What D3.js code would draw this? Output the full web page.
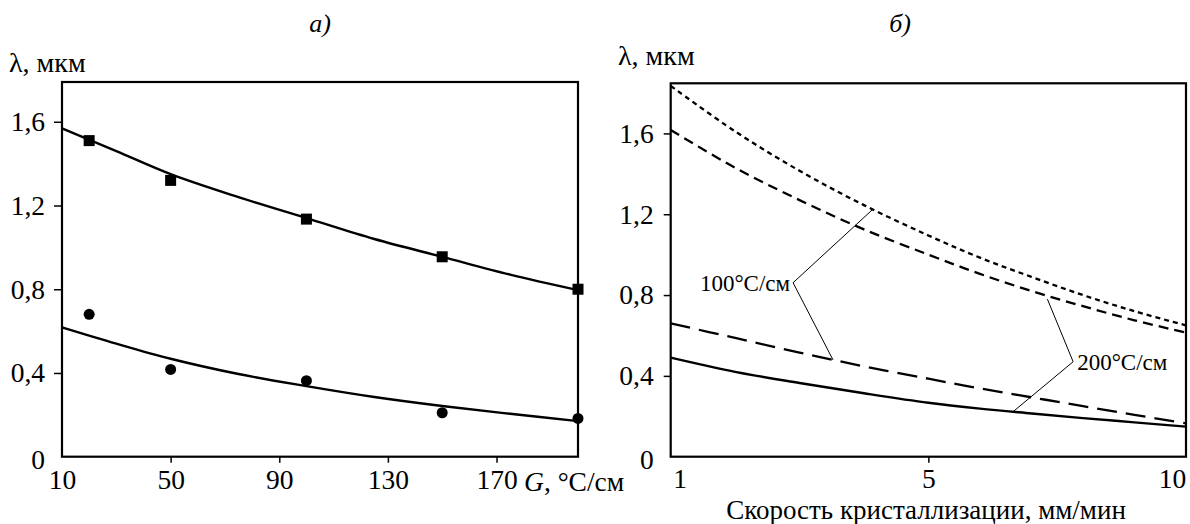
<!DOCTYPE html>
<html><head><meta charset="utf-8">
<script src="https://cdn.jsdelivr.net/npm/d3@7"></script>
<style>
html,body{margin:0;padding:0;background:#fff;}
text{font-family:"Liberation Serif","Times New Roman",serif;fill:#000;}
</style></head>
<body><svg id="c" width="1190" height="524"></svg>
<script>
// ---- Panel a) data ----
const gValues = [20, 50, 100, 150, 200];
const squareLambda = [1.51, 1.32, 1.135, 0.955, 0.80];
const circleLambda = [0.68, 0.417, 0.363, 0.21, 0.183];
const fitG = [10, 30, 50, 75, 100, 125, 150, 175, 200];
const fitTop = [1.568, 1.46, 1.35, 1.24, 1.14, 1.04, 0.955, 0.87, 0.796];
const fitBottom = [0.618, 0.54, 0.468, 0.395, 0.337, 0.285, 0.242, 0.205, 0.17];
const leftXTicks = [10, 50, 90, 130, 170];
const leftYTicks = [0, 0.4, 0.8, 1.2, 1.6];

// ---- Panel б) data ----
const speed = [1, 2, 3, 4, 5, 6, 7, 8, 9, 10];
const curveA = [1.835, 1.61, 1.415, 1.245, 1.095, 0.985, 0.89, 0.80, 0.72, 0.65];
const curveB = [1.617, 1.43, 1.27, 1.125, 1.0, 0.905, 0.82, 0.745, 0.675, 0.614];
const curveC = [0.66, 0.5875, 0.5155, 0.447, 0.386, 0.338, 0.294, 0.25, 0.207, 0.165];
const curveD = [0.49, 0.42, 0.365, 0.314, 0.267, 0.238, 0.214, 0.191, 0.17, 0.149];
const rightXTicks = [1, 5, 10];
const rightYTicks = [0, 0.4, 0.8, 1.2, 1.6];
// annotation: label, vertex [speed, λ], targets [[speed, λ], ...]
const annLabels = ["100°C/см", "200°C/см"];
const annVertex = [[2.9, 0.861], [7.81, 0.47]];
const annTargets = [[[4.14, 1.225], [3.52, 0.479]], [[7.31, 0.78], [6.645, 0.223]]];

const svg = d3.select("#c");
const comma = v => String(v).replace(".", ",");
const FS = 27.5;

// ===== Panel a =====
const L = {x0: 62, x1: 578, y0: 456.7, y1: 82};
const xA = d3.scaleLinear().domain([10, 200]).range([L.x0, L.x1]);
const yA = d3.scaleLinear().domain([0, 1.79]).range([L.y0, L.y1]);
const gA = svg.append("g");

const axXA = gA.append("g").attr("transform", `translate(0,${L.y0})`)
  .call(d3.axisBottom(xA).tickValues(leftXTicks).tickSize(6).tickPadding(7).tickFormat(d => d));
const axYA = gA.append("g").attr("transform", `translate(${L.x0},0)`)
  .call(d3.axisLeft(yA).tickValues(leftYTicks).tickSize(8).tickPadding(9).tickFormat(comma));
[axXA, axYA].forEach(a => {
  a.select(".domain").remove();
  a.selectAll("line").attr("stroke", "#000").attr("stroke-width", 1.5);
  a.selectAll("text").attr("font-size", FS).attr("font-family", "Liberation Serif");
});
axXA.selectAll(".tick").filter(d => d === 10).select("line").remove();
axYA.selectAll(".tick").filter(d => d === 0).select("line").remove();
axYA.selectAll(".tick").filter(d => d === 0).select("text").attr("dy", "0.42em");

gA.append("rect").attr("x", L.x0).attr("y", L.y1).attr("width", L.x1 - L.x0).attr("height", L.y0 - L.y1)
  .attr("fill", "none").attr("stroke", "#000").attr("stroke-width", 2.2);

const lineA = d3.line().x(d => xA(d[0])).y(d => yA(d[1])).curve(d3.curveCatmullRom);
gA.append("path").attr("d", lineA(fitG.map((g, i) => [g, fitTop[i]])))
  .attr("fill", "none").attr("stroke", "#000").attr("stroke-width", 2.4);
gA.append("path").attr("d", lineA(fitG.map((g, i) => [g, fitBottom[i]])))
  .attr("fill", "none").attr("stroke", "#000").attr("stroke-width", 2.4);

gA.selectAll("rect.sq").data(gValues.map((g, i) => [g, squareLambda[i]])).enter().append("rect")
  .attr("class", "sq").attr("x", d => xA(d[0]) - 5.5).attr("y", d => yA(d[1]) - 5.5)
  .attr("width", 11).attr("height", 11).attr("fill", "#000");
gA.selectAll("circle.ci").data(gValues.map((g, i) => [g, circleLambda[i]])).enter().append("circle")
  .attr("class", "ci").attr("cx", d => xA(d[0])).attr("cy", d => yA(d[1])).attr("r", 5.5).attr("fill", "#000");

gA.append("text").attr("x", 320).attr("y", 32).attr("text-anchor", "middle")
  .attr("font-size", 26).attr("font-style", "italic").text("а)");
gA.append("text").attr("x", 9).attr("y", 72).attr("font-size", 28).text("λ, мкм");
const xlabA = gA.append("text").attr("x", 524).attr("y", 491).attr("font-size", FS);
xlabA.append("tspan").attr("font-style", "italic").text("G");
xlabA.append("tspan").text(", °C/см");

// ===== Panel б =====
const R = {x0: 670.7, x1: 1186, y0: 456.7, y1: 83.3};
const xB = d3.scaleLinear().domain([1, 5, 10]).range([R.x0, (R.x0 + R.x1) / 2, R.x1]);
const yB = d3.scaleLinear().domain([0, 1.848]).range([R.y0, R.y1]);
const gB = svg.append("g");

const axXB = gB.append("g").attr("transform", `translate(0,${R.y0})`)
  .call(d3.axisBottom(xB).tickValues(rightXTicks).tickSize(6).tickPadding(6).tickFormat(d => d));
const axYB = gB.append("g").attr("transform", `translate(${R.x0},0)`)
  .call(d3.axisLeft(yB).tickValues(rightYTicks).tickSize(7).tickPadding(10).tickFormat(comma));
[axXB, axYB].forEach(a => {
  a.select(".domain").remove();
  a.selectAll("line").attr("stroke", "#000").attr("stroke-width", 1.5);
  a.selectAll("text").attr("font-size", FS).attr("font-family", "Liberation Serif");
});
axXB.selectAll(".tick").filter(d => d === 1 || d === 10).select("line").remove();
axXB.selectAll(".tick").filter(d => d === 1).select("text").attr("dx", 9);
axXB.selectAll(".tick").filter(d => d === 10).select("text").attr("dx", -14);
axYB.selectAll(".tick").filter(d => d === 0).select("line").remove();
axYB.selectAll(".tick").filter(d => d === 0).select("text").attr("dy", "0.42em");

gB.append("rect").attr("x", R.x0).attr("y", R.y1).attr("width", R.x1 - R.x0).attr("height", R.y0 - R.y1)
  .attr("fill", "none").attr("stroke", "#000").attr("stroke-width", 2.2);

const lineB = d3.line().x(d => xB(d[0])).y(d => yB(d[1])).curve(d3.curveCatmullRom);
const series = [
  {v: curveA, dash: "5,4", w: 2.3},
  {v: curveB, dash: "10,6", w: 2.3},
  {v: curveC, dash: "20,9", w: 2.3},
  {v: curveD, dash: null, w: 2.4}
];
series.forEach(s => {
  gB.append("path").attr("d", lineB(speed.map((x, i) => [x, s.v[i]])))
    .attr("fill", "none").attr("stroke", "#000").attr("stroke-width", s.w)
    .attr("stroke-dasharray", s.dash);
});

annLabels.forEach((lab, i) => {
  const v = annVertex[i];
  annTargets[i].forEach(t => {
    gB.append("line").attr("x1", xB(v[0])).attr("y1", yB(v[1])).attr("x2", xB(t[0])).attr("y2", yB(t[1]))
      .attr("stroke", "#000").attr("stroke-width", 1);
  });
  const right = i === 0;
  gB.append("text").attr("x", xB(v[0]) + (right ? -3 : 4)).attr("y", yB(v[1]) + 8)
    .attr("text-anchor", right ? "end" : "start").attr("font-size", 23).text(lab);
});

gB.append("text").attr("x", 900).attr("y", 32).attr("text-anchor", "middle")
  .attr("font-size", 26).attr("font-style", "italic").text("б)");
gB.append("text").attr("x", 618).attr("y", 65).attr("font-size", 28).text("λ, мкм");
gB.append("text").attr("x", 926).attr("y", 519).attr("text-anchor", "middle").attr("font-size", 27)
  .text("Скорость кристаллизации, мм/мин");
</script></body></html>
